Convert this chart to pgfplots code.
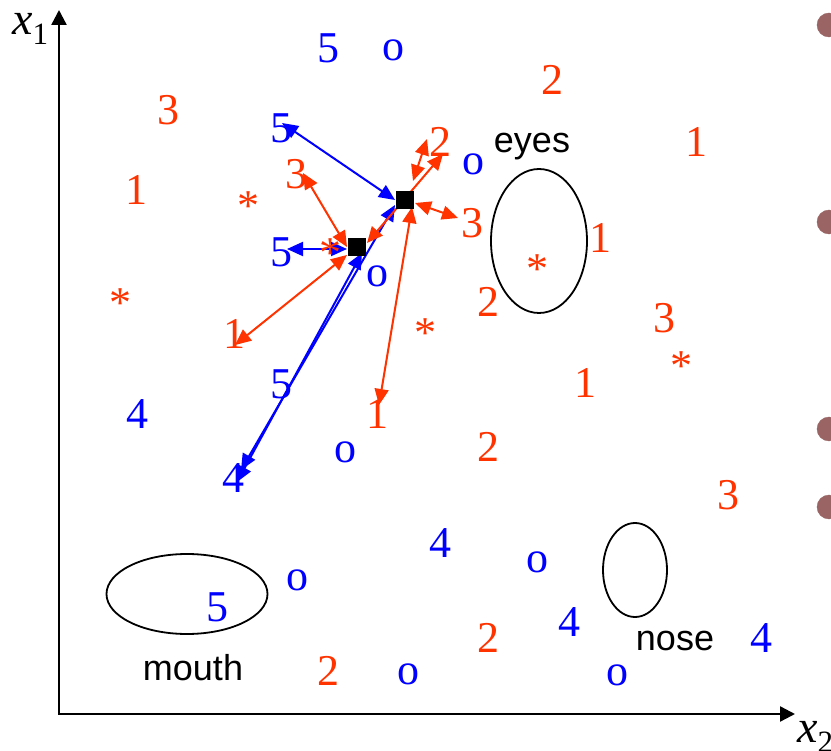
\documentclass[border=0pt]{standalone}
\usepackage{fontspec}
\setmainfont{Liberation Serif}
\newfontfamily\arial{Liberation Sans}
\usepackage{pgfplots}
\pgfplotsset{compat=1.18}
\usetikzlibrary{arrows.meta}
\definecolor{myblue}{RGB}{0,0,255}
\definecolor{myorange}{RGB}{255,51,0}
\definecolor{bulletc}{RGB}{155,100,100}
\tikzset{
  dbl/.style={line width=2pt, {Triangle[length=16pt,width=14pt]}-{Triangle[length=16pt,width=14pt]}},
}
\begin{document}
\begin{tikzpicture}
\begin{axis}[x=1pt, y=1pt, xmin=0, xmax=831, ymin=0, ymax=751, y dir=reverse,
  hide axis, clip=false]
\coordinate (BL) at (axis cs:0,751);
\coordinate (TR) at (axis cs:831,0);
% axes
\addplot[black, line width=2.4pt, line join=miter, {Triangle[length=15pt,width=15pt]}-{Triangle[length=15pt,width=15pt]}]
  coordinates {(59,10) (59,714) (795,714)};
% ellipses
\draw[line width=1.8pt] (axis cs:539,241) ellipse [x radius=48, y radius=72];
\draw[line width=1.8pt] (axis cs:635,570) ellipse [x radius=32, y radius=47];
\draw[line width=1.8pt] (axis cs:187,594) ellipse [x radius=80.5, y radius=40];
% squares
\addplot[only marks, mark=square*, mark size=8.5pt, black] coordinates {(404.5,199.5) (356.5,246.5)};
% blue arrows
\addplot[myblue, dbl] coordinates {(282,123) (395,200)};
\addplot[myblue, dbl] coordinates {(287,249) (347,249)};
\addplot[myblue, dbl] coordinates {(241,470) (395,205)};
\addplot[myblue, dbl] coordinates {(237,482) (362,253)};
% orange arrows
\addplot[myorange, dbl] coordinates {(303,173) (347,247)};
\addplot[myorange, dbl] coordinates {(235,345) (347,255)};
\addplot[myorange, dbl] coordinates {(367,243) (443,154)};
\addplot[myorange, dbl] coordinates {(413,181) (427,139)};
\addplot[myorange, dbl] coordinates {(415,203) (458,218)};
\addplot[myorange, dbl] coordinates {(412,207) (379,405)};
% blue symbols
\addplot[draw=none, mark=none, nodes near coords, point meta=explicit symbolic,
  nodes near coords style={anchor=center, inner sep=0pt, text=myblue, font=\fontsize{44}{44}\selectfont}]
  table[meta=l] {
x y l
328 48 5
393 50 o
281 128 5
473 164 o
281 252 5
377 276 o
281 384 5
137 414 4
345 452 o
233 478 4
440 543 4
537 562 o
297 580 o
217 607 5
569 622 4
761 638 4
408 674 o
617 675 o
};
% orange digits
\addplot[draw=none, mark=none, nodes near coords, point meta=explicit symbolic,
  nodes near coords style={anchor=center, inner sep=0pt, text=myorange, font=\fontsize{44}{44}\selectfont}]
  table[meta=l] {
x y l
552 80 2
168 110 3
440 142 2
696 142 1
296 174 3
136 190 1
472 223 3
600 238 1
488 302 2
664 318 3
234 334 1
585 383 1
377 414 1
488 447 2
728 495 3
488 638 2
328 671 2
};
% orange asterisks
\addplot[draw=none, mark=none, nodes near coords={*},
  nodes near coords style={anchor=center, inner sep=0pt, yshift=-5pt, text=myorange, font=\fontsize{44}{44}\selectfont}]
  coordinates {(248,201) (330,248) (120,298) (537,264) (425,328) (681,361)};
% bullets (cut at right edge)
\addplot[only marks, mark=*, mark size=12pt, bulletc] coordinates {(829,25) (829,222) (829,429) (829,507)};
% labels
\node[anchor=base, inner sep=0pt] at (axis cs:532,153) {\arial\fontsize{36}{36}\selectfont eyes};
\node[anchor=base, inner sep=0pt] at (axis cs:193,680) {\arial\fontsize{36}{36}\selectfont mouth};
\node[anchor=base, inner sep=0pt] at (axis cs:675,650) {\arial\fontsize{36}{36}\selectfont nose};
\node[anchor=base west, inner sep=0pt] at (axis cs:12,35) {\fontsize{46}{46}\selectfont\textit{x}\raisebox{-10pt}{\fontsize{31}{31}\selectfont 1}};
\node[anchor=base west, inner sep=0pt] at (axis cs:797,742) {\fontsize{46}{46}\selectfont\textit{x}\raisebox{-10pt}{\fontsize{31}{31}\selectfont 2}};
\end{axis}
\pgfresetboundingbox
\useasboundingbox (BL) rectangle (TR);
\end{tikzpicture}
\end{document}
